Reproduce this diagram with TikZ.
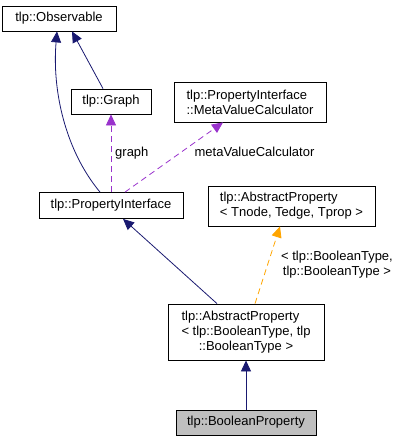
\documentclass[tikz,border=0pt]{standalone}
\usepackage{fontspec}
\setmainfont{Liberation Sans}
\usetikzlibrary{arrows.meta}
\definecolor{inhblue}{RGB}{25,25,112}
\definecolor{usepurple}{RGB}{153,50,204}
\definecolor{tmplorange}{RGB}{255,165,0}
\definecolor{leafgray}{RGB}{191,191,191}

\begin{document}
\begin{tikzpicture}[
      x=1pt, y=-1pt,
      cls/.style  = {draw, fill=white, line width=0.8pt, inner sep=0pt,
                     align=left, font=\fontsize{13}{15}\selectfont},
      inh/.style  = {inhblue, line width=0.8pt,
                     -{Triangle[length=11pt, width=10pt]}},
      use/.style  = {usepurple, line width=0.8pt, dash pattern=on 6pt off 4pt,
                     -{Triangle[length=11pt, width=10pt]}},
      tmpl/.style = {tmplorange, line width=0.8pt, dash pattern=on 6pt off 4pt,
                     -{Triangle[length=11pt, width=10pt]}},
      lbl/.style  = {inner sep=0pt, font=\fontsize{13}{15}\selectfont},
    ]
    \useasboundingbox (0,0) rectangle (401,441);

    \node[cls, minimum width=114pt, minimum height=25pt] (obs)   at (59,18.5)  {tlp::Observable};
    \node[cls, minimum width=80pt,  minimum height=25pt] (graph) at (111,101.5) {tlp::Graph};
    \node[cls, minimum width=152pt, minimum height=40pt] (meta)  at (250,102)
      {tlp::PropertyInterface\\::MetaValueCalculator};
    \node[cls, minimum width=144pt, minimum height=26pt] (pi)    at (111,205.5) {tlp::PropertyInterface};
    \node[cls, minimum width=167pt, minimum height=40pt] (apt)   at (291.5,206)
      {tlp::AbstractProperty\\< Tnode, Tedge, Tprop >};
    \node[cls, minimum width=156pt, minimum height=56pt] (apb)   at (246,332)
      {\begin{tabular}{@{}l@{}}tlp::AbstractProperty\\< tlp::BooleanType, tlp\\
       \multicolumn{1}{@{}c@{}}{::BooleanType >}\end{tabular}};
    \node[cls, fill=leafgray, minimum width=140pt, minimum height=25pt] (bool) at (246,422.5)
      {tlp::BooleanProperty};

    % inheritance
    \draw[inh] ([xshift=-11pt]pi.north) .. controls (65,150) and (52,90) .. ([xshift=-2pt]obs.south);
    \draw[inh] ([xshift=-8pt]graph.north) -- ([xshift=13pt]obs.south);
    \draw[inh] ([xshift=-29pt]apb.north) -- ([xshift=12pt]pi.south);
    \draw[inh] (bool.north) -- (apb.south);

    % usage and template
    \draw[use]  (pi.north) -- (graph.south);
    \draw[use]  ([xshift=14pt]pi.north) -- ([xshift=-27pt]meta.south);
    \draw[tmpl] ([xshift=9pt]apb.north) -- ([xshift=-11.5pt]apt.south);

    \node[lbl, anchor=west] (lgraph) at (115,153)   {graph};
    \node[lbl]              (lmeta)  at (254.5,152) {metaValueCalculator};
    \node[lbl, align=center] (ltmpl) at (337,264.5) {< tlp::BooleanType,\\tlp::BooleanType >};

  \end{tikzpicture}
\end{document}
